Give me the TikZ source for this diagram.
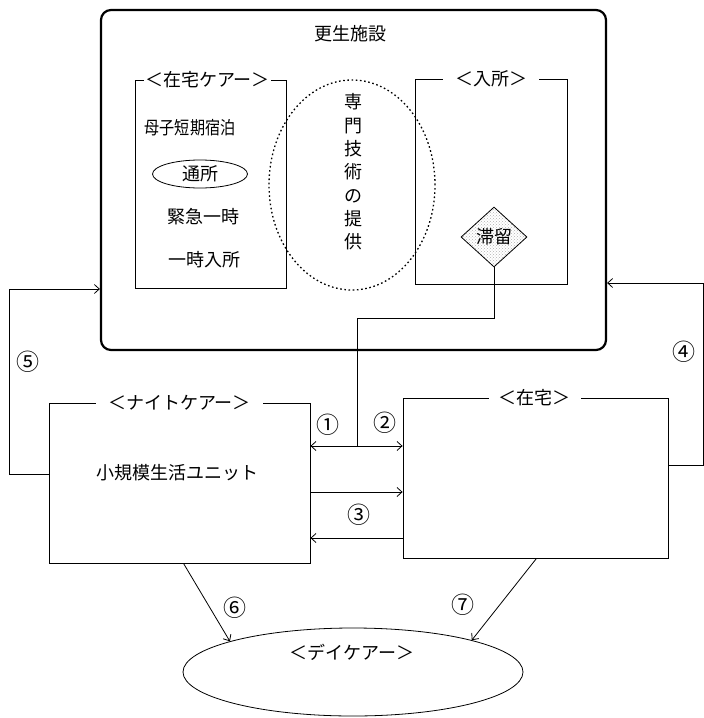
\documentclass[tikz,border=0pt]{standalone}
\usepackage{fontspec}
\usepackage{graphicx}
\setmainfont{Noto Sans CJK JP}
\usetikzlibrary{shapes.geometric,patterns,arrows.meta}
\begin{document}
\begin{tikzpicture}[x=1pt,y=-1pt,
  every node/.style={font=\fontsize{18}{21}\selectfont},
  >={Straight Barb[length=5pt,width=9pt]},
  boxnode/.style={draw, line width=0.8pt, inner sep=0pt},
  toplabel/.style={fill=white, inner ysep=1pt, inner xsep=#1},
  toplabel/.default=12pt,
  conn/.style={line width=0.8pt},
  num/.style={inner sep=0pt, font=\fontsize{23}{26}\selectfont}]
\useasboundingbox (0,0) rectangle (704,718);

% outer facility box
\node[draw, line width=2.2pt, rounded corners=10pt, minimum width=505pt, minimum height=340pt, inner sep=0pt] (outer) at (353.5,180) {};
\node (title) at (350,34) {更生施設};

% home care box
\node[boxnode, minimum width=151pt, minimum height=208pt] (care) at (210.5,184) {};
\node[toplabel=1pt] (carelbl) at ([xshift=-3pt]care.north) {＜在宅ケアー＞};
\node (boshi) at (190,128) {\scalebox{0.84}[1]{母子短期宿泊}};
\node[draw, ellipse, line width=0.8pt, minimum width=95pt, minimum height=28pt, inner sep=0pt] (tsusho) at (200,174) {通所};
\node (kinkyu) at (203,217) {緊急一時};
\node (ichiji) at (204,260) {一時入所};

% admission box
\node[boxnode, minimum width=152pt, minimum height=205pt] (nyu) at (491,181.5) {};
\node[toplabel] (nyulbl) at (nyu.north) {＜入所＞};
\node[draw, diamond, line width=0.8pt, minimum width=66pt, minimum height=60pt, inner sep=0pt, aspect=1.1, pattern=crosshatch dots, pattern color=gray!60] (tai) at (494,237) {滞留};

% dotted ellipse
\node[draw, ellipse, dash pattern=on 1.6pt off 2.6pt, line width=1.3pt, minimum width=166pt, minimum height=210pt] (senmon) at (352,185) {};
\node[align=center, font=\fontsize{18}{23.3}\selectfont] (senmontxt) at (353,172) {専\\門\\技\\術\\の\\提\\供};

% night care box
\node[boxnode, minimum width=261pt, minimum height=160pt] (night) at (179.5,483) {};
\node[toplabel] (nightlbl) at (night.north) {＜ナイトケアー＞};
\node (unit) at (177,473) {小規模生活ユニット};

% home box
\node[boxnode, minimum width=265pt, minimum height=160pt] (home) at (535.5,478) {};
\node[toplabel=10pt] (homelbl) at ([xshift=-1pt]home.north) {＜在宅＞};

% day care ellipse
\node[draw, ellipse, line width=0.8pt, minimum width=340pt, minimum height=88pt, inner sep=0pt] (day) at (353,672) {};
\node (daylbl) at (352,652) {＜デイケアー＞};

% coordinates
\coordinate (bend) at (357,318);
\coordinate (j) at (357,446);
\coordinate (m1) at (357,492);
\coordinate (m2) at (357,538);
\coordinate (r1) at (703,465);
\coordinate (r2) at (703,283);
\coordinate (l1) at (9,474);
\coordinate (l2) at (9,289);

% connectors
\draw[conn] (tai.south) |- (bend) -- (j);
\draw[conn,<->] (night.east |- j) -- (home.west |- j);
\draw[conn,->] (night.east |- m1) -- (home.west |- m1);
\draw[conn,->] (home.west |- m2) -- (night.east |- m2);
\draw[conn,->] (home.east |- r1) -- (r1) -- (r2) -- (outer.east |- r2);
\draw[conn,->] (night.west |- l1) -- (l1) -- (l2) -- (outer.west |- l2);
\draw[conn,->] ([xshift=4pt]night.south) -- (day.166);
\draw[conn,->] ([xshift=1pt]home.south) -- (day.15);

% numbers
\node[num] (n1) at (328,425) {①};
\node[num] (n2) at (385,423) {②};
\node[num] (n3) at (359,515) {③};
\node[num] (n4) at (684,352) {④};
\node[num] (n5) at (28,362) {⑤};
\node[num] (n6) at (235,608) {⑥};
\node[num] (n7) at (463,605) {⑦};
\end{tikzpicture}
\end{document}
